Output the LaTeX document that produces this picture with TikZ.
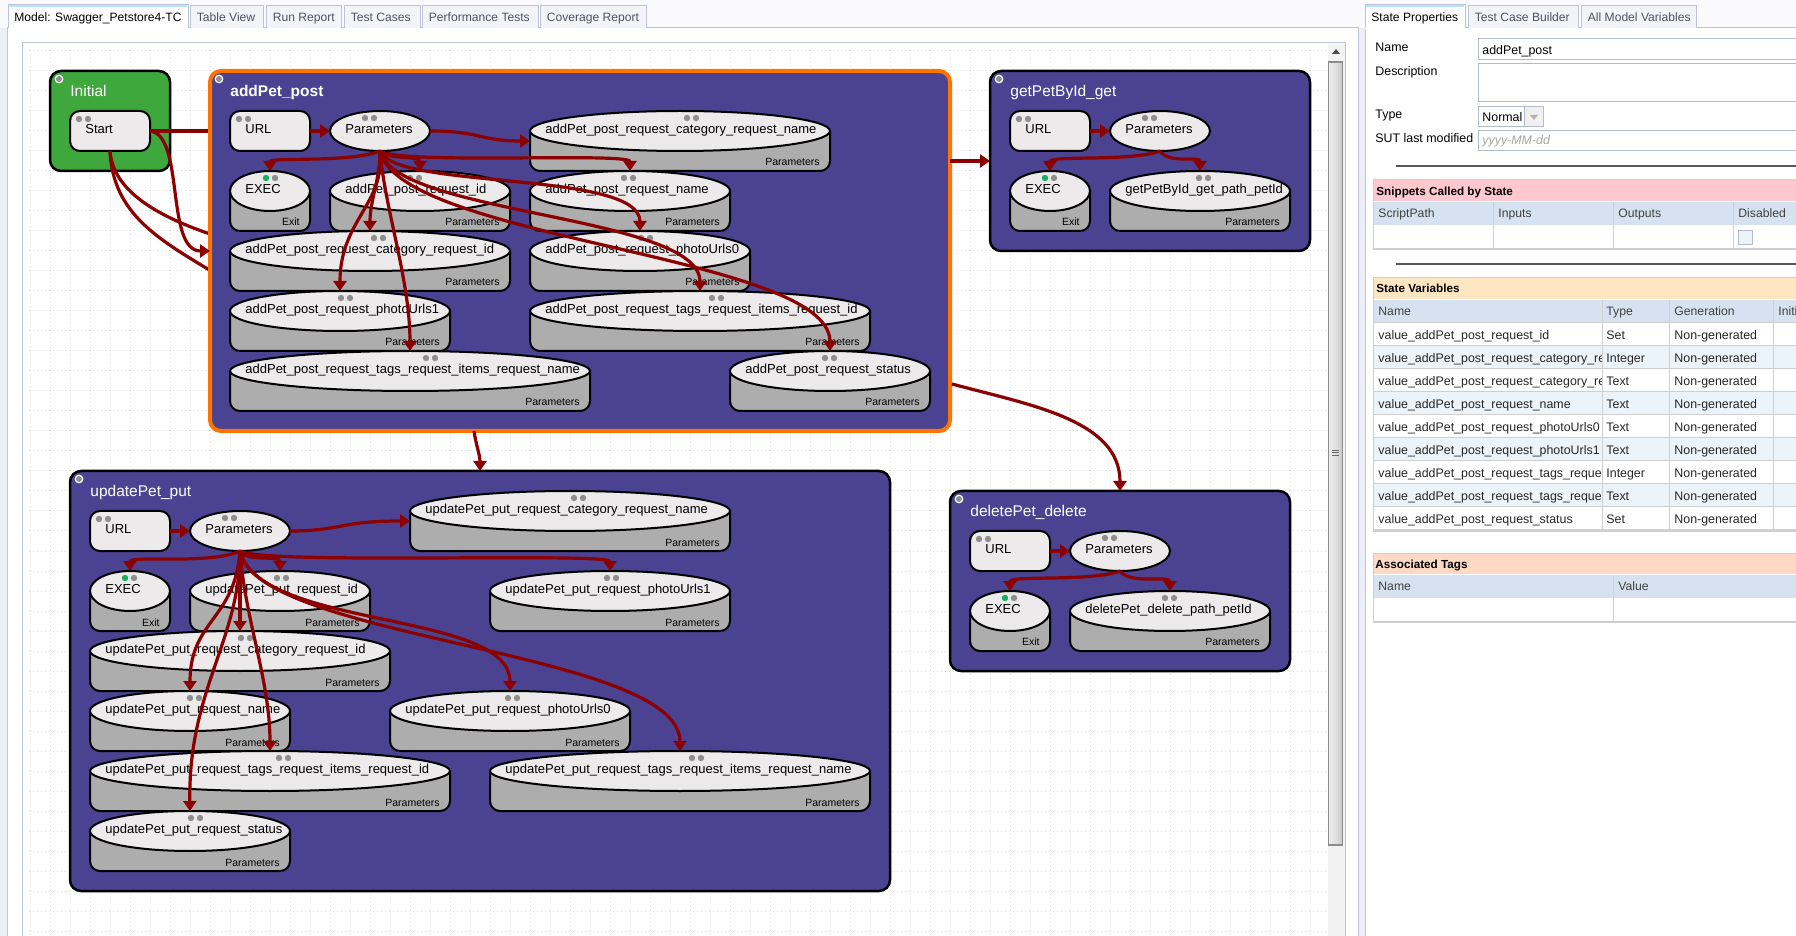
\documentclass[tikz,border=0pt]{standalone}
\usepackage{fontspec}
\setmainfont{Liberation Sans}
\usetikzlibrary{shapes.geometric,arrows.meta,calc}
\definecolor{stateblue}{HTML}{4B4391}
\definecolor{stategreen}{HTML}{3EA83C}
\definecolor{arrowred}{HTML}{8B0000}
\definecolor{nodefill}{HTML}{ECEAEB}
\definecolor{cylgrey}{HTML}{ADADAD}
\definecolor{dotgrey}{HTML}{8E8E8E}
\definecolor{dotgreen}{HTML}{10B060}
\definecolor{panelbg}{HTML}{EEEFF6}
\definecolor{topbg}{HTML}{FAFAFD}
\definecolor{tabline}{HTML}{BFC3D6}
\definecolor{tabfill}{HTML}{F3F4F8}
\definecolor{tabtext}{HTML}{4A5460}
\definecolor{fieldline}{HTML}{B4BBCB}
\definecolor{headblue}{HTML}{D6E2EF}
\definecolor{rowblue}{HTML}{EBF4FA}
\definecolor{tablegrey}{HTML}{CFCFCF}
\definecolor{pinkhead}{HTML}{FFC8CE}
\definecolor{orangehead}{HTML}{FFE6C2}
\definecolor{salmonhead}{HTML}{FFD9C4}
\newcommand\fsz[1]{\fontsize{#1}{#1}\selectfont}
\tikzset{
  x=0.5pt,y=-0.5pt,
  statebody/.style={draw=black,line width=1.25pt,fill=stateblue,rounded corners=5.5pt,inner sep=0pt,outer sep=0pt},
  selbody/.style={draw=orange!90!red,line width=2pt,fill=stateblue,rounded corners=5.5pt,inner sep=0pt,outer sep=0pt},
  initbody/.style={draw=black,line width=1.25pt,fill=stategreen,rounded corners=5.5pt,inner sep=0pt,outer sep=0pt},
  urlbody/.style={draw=black,line width=1pt,fill=nodefill,rounded corners=5pt,inner sep=0pt,outer sep=0pt},
  parbody/.style={ellipse,draw=black,line width=1pt,fill=nodefill,inner sep=0pt,outer sep=0pt},
  cylbox/.style={inner sep=0pt,outer sep=0pt},
  cylside/.style={draw=black,line width=1pt,fill=cylgrey,rounded corners=5pt},
  titletext/.style={anchor=base west,inner sep=0pt,text=white,font=\fsz{7.75}},
  nametext/.style={anchor=base west,inner sep=0pt,text=black,font=\fsz{6.5}},
  subtext/.style={anchor=base east,inner sep=0pt,text=black,font=\fsz{5.25}},
  conn/.style={draw=arrowred,line width=1.6pt,-{Triangle[length=5pt,width=6.5pt]}},
  connplain/.style={draw=arrowred,line width=1.6pt},
  griddots/.style={draw=black!13,line width=0.5pt,dash pattern=on 0.5pt off 1.5pt},
  tablabel/.style={anchor=base west,inner sep=0pt,font=\fsz{6.05}},
  formlabel/.style={anchor=base west,inner sep=0pt,text=black,font=\fsz{6.2}},
  boldlabel/.style={anchor=base west,inner sep=0pt,text=black,font=\fsz{5.85}\bfseries},
  headlabel/.style={anchor=base west,inner sep=0pt,text=black!75,font=\fsz{6.1}},
  celltext/.style={anchor=base west,inner sep=0pt,text=black!85,font=\fsz{6.2}},
  fieldbox/.style={draw=fieldline,line width=0.5pt,fill=white},
  tabshape/.style={draw=tabline,line width=0.5pt,fill=tabfill},
  gridrule/.style={draw=tablegrey,line width=0.5pt},
}
% name, x0,y0,x1,y1, style, title, title font extra
\newcommand\statebox[8]{%
  \pgfmathsetlengthmacro\bw{0.5pt*(#4-#2)}\pgfmathsetlengthmacro\bh{0.5pt*(#5-#3)}%
  \node[#6,minimum width=\bw,minimum height=\bh] (#1) at ({(#2+#4)/2},{(#3+#5)/2}) {};
  \fill[white] (#2+9,#3+8) circle (2.2pt);
  \fill[dotgrey] (#2+9,#3+8) circle (1.5pt);
  \node[titletext,#8] (#1-t) at (#2+20,#3+25.5) {#7};
}
\newcommand\urlbox[4]{%
  \node[urlbody,minimum width=40pt,minimum height=20pt] (#1) at (#2+40,#3+20) {};
  \fill[dotgrey] (#2+9,#3+8) circle (1.6pt) (#2+18,#3+8) circle (1.6pt);
  \node[nametext] (#1-t) at (#2+15,#3+22.5) {#4};
}
\newcommand\parell[3]{%
  \node[parbody,minimum width=50pt,minimum height=20pt] (#1) at (#2+50,#3+20) {};
  \fill[dotgrey] (#2+35,#3+7) circle (1.6pt) (#2+44,#3+7) circle (1.6pt);
  \node[nametext] (#1-t) at (#2+15,#3+22.5) {Parameters};
}
% name,x0,y0,x1,y1,dotx,text,sub,dotcolour
\newcommand\cylnode[9]{%
  \pgfmathsetlengthmacro\bw{0.5pt*(#4-#2)}\pgfmathsetlengthmacro\bh{0.5pt*(#5-#3)}%
  \node[cylbox,minimum width=\bw,minimum height=\bh] (#1) at ({(#2+#4)/2},{(#3+#5)/2}) {};
  \path[cylside] ([yshift=-10pt]#1.north west) -- (#1.south west) -- (#1.south east) -- ([yshift=-10pt]#1.north east);
  \node[parbody,minimum width=\bw,minimum height=20pt,anchor=north] (#1-e) at (#1.north) {};
  \fill[#9] (#6,#3+7) circle (1.6pt);
  \fill[dotgrey] (#6+9,#3+7) circle (1.6pt);
  \node[nametext] (#1-t) at (#2+15,#3+22.5) {#7};
  \node[subtext] (#1-s) at (#4-10,#5-5) {#8};
}
% name,x0,x1,text,colour,style
\newcommand\tabitem[6]{%
  \draw[#6] (#2,28) -- (#2,6) -- (#3,6) -- (#3,28);
  \node[tablabel,text=#5] (#1) at (#2+6.5,21.5) {#4};
}
\begin{document}
\begin{tikzpicture}
\useasboundingbox (0,0) rectangle (1796,936);
% ---- window background
\fill[panelbg] (0,0) rectangle (1796,936);
\fill[topbg] (0,0) rectangle (1796,28);
\fill[white] (7,28) rectangle (1358,936);
\fill[white] (1365,28) rectangle (1796,936);
\draw[tabline,line width=0.5pt] (7,936) -- (7,28) -- (1358,28) -- (1358,936);
\draw[tabline,line width=0.5pt] (1365,936) -- (1365,28) -- (1796,28);
% ---- left tabs
\tabitem{tabTable}{190}{263}{Table View}{tabtext}{tabshape}
\tabitem{tabRun}{266}{341}{Run Report}{tabtext}{tabshape}
\tabitem{tabCases}{344}{420}{Test Cases}{tabtext}{tabshape}
\tabitem{tabPerf}{422}{538}{Performance Tests}{tabtext}{tabshape}
\tabitem{tabCov}{540}{646}{Coverage Report}{tabtext}{tabshape}
\fill[white] (8,5) rectangle (188,29);
\draw[tabline,line width=0.5pt] (8,28) -- (8,5) -- (188,5) -- (188,28);
\draw[cyan!30,line width=0.7pt] (9,6) -- (187,6);
\node[tablabel,text=black] (tabModel) at (14,21.5) {Model: Swagger\_Petstore4-TC};
% ---- canvas
\draw[tabline,line width=0.5pt,fill=white] (22,43) rectangle (1345,936);
\begin{scope}
\clip (23,44) rectangle (1328,936);
\foreach \gx in {30,50,...,1330} \draw[griddots] (\gx,50) -- (\gx,936);
\foreach \gy in {51,71,...,936} \draw[griddots] (29,\gy) -- (1328,\gy);
\end{scope}
% ---- scrollbar
\fill[black!5] (1328,44) rectangle (1344.7,936);
\fill[black!70] (1332,54) -- (1340,54) -- (1336,49) -- cycle;
\draw[black!45,line width=0.6pt,left color=black!8,right color=black!22,middle color=black!12] (1328.5,62) rectangle (1342.5,845);
\foreach \sy in {450,452.5,455} \draw[black!60,line width=0.4pt] (1332,\sy) -- (1339,\sy);
% ---- Initial
\statebox{init}{50}{71}{170}{171}{initbody}{Initial}{}
\urlbox{start}{70}{111}{Start}
% ---- transitions that pass behind addPet_post
\coordinate (behindA) at (216,131);
\coordinate (behindB) at (216,236);
\coordinate (behindC) at (216,274);
\draw[connplain] (start.east) -- (behindA);
\draw[connplain] (start.south) .. controls (113,190) and (155,216) .. (behindB);
\draw[connplain] (start.south) .. controls (113,215) and (160,240) .. (behindC);
% ---- addPet_post
\statebox{add}{210}{71}{950}{431}{selbody}{addPet\_post}{font=\fsz{7.75}\bfseries}
\urlbox{aurl}{230}{111}{URL}
\parell{apar}{330}{111}
\cylnode{acn}{530}{111}{830}{171}{687}{addPet\_post\_request\_category\_request\_name}{Parameters}{dotgrey}
\cylnode{aex}{230}{171}{310}{231}{266}{EXEC}{Exit}{dotgreen}
\cylnode{aid}{330}{171}{510}{231}{410}{addPet\_post\_request\_id}{Parameters}{dotgrey}
\cylnode{anm}{530}{171}{730}{231}{624}{addPet\_post\_request\_name}{Parameters}{dotgrey}
\cylnode{aci}{230}{231}{510}{291}{374}{addPet\_post\_request\_category\_request\_id}{Parameters}{dotgrey}
\cylnode{apz}{530}{231}{750}{291}{641}{addPet\_post\_request\_photoUrls0}{Parameters}{dotgrey}
\cylnode{apo}{230}{291}{450}{351}{341}{addPet\_post\_request\_photoUrls1}{Parameters}{dotgrey}
\cylnode{ati}{530}{291}{870}{351}{712}{addPet\_post\_request\_tags\_request\_items\_request\_id}{Parameters}{dotgrey}
\cylnode{atn}{230}{351}{590}{411}{426}{addPet\_post\_request\_tags\_request\_items\_request\_name}{Parameters}{dotgrey}
\cylnode{ast}{730}{351}{930}{411}{825}{addPet\_post\_request\_status}{Parameters}{dotgrey}
\draw[conn] (aurl.east) -- (apar.west);
\draw[conn] (apar.east) .. controls (480,131) and (480,141) .. (acn.west);
\draw[conn] (apar.south) .. controls (350,163) and (270,157) .. (aex.north);
\draw[conn] (apar.south) .. controls (385,160) and (420,155) .. (aid.north);
\draw[conn] (apar.south) .. controls (400,165) and (630,152) .. (anm.north);
\draw[conn] (apar.south) .. controls (380,180) and (370,200) .. (aci.north);
\draw[conn] (apar.south) .. controls (395,190) and (640,170) .. (apz.north);
\draw[conn] (apar.south) .. controls (385,205) and (340,220) .. (apo.north);
\draw[conn] (apar.south) .. controls (385,210) and (410,280) .. (atn.north);
\draw[conn] (apar.south) .. controls (395,215) and (700,215) .. (ati.north);
\draw[conn] (apar.south) .. controls (400,240) and (830,255) .. (ast.north);
\draw[conn] (start.east) .. controls (185,135) and (165,251) .. (add.west);
% ---- getPetById_get
\statebox{get}{990}{71}{1310}{251}{statebody}{getPetById\_get}{}
\urlbox{gurl}{1010}{111}{URL}
\parell{gpar}{1110}{111}
\cylnode{gex}{1010}{171}{1090}{231}{1045}{EXEC}{Exit}{dotgreen}
\cylnode{gid}{1110}{171}{1290}{231}{1199}{getPetById\_get\_path\_petId}{Parameters}{dotgrey}
\draw[conn] (gurl.east) -- (gpar.west);
\draw[conn] (gpar.south) .. controls (1130,162) and (1050,155) .. (gex.north);
\draw[conn] (gpar.south) .. controls (1170,165) and (1200,155) .. (gid.north);
\draw[conn] (add.east |- get.west) -- (get.west);
% ---- updatePet_put
\statebox{upd}{70}{471}{890}{891}{statebody}{updatePet\_put}{}
\urlbox{uurl}{90}{511}{URL}
\parell{upar}{190}{511}
\cylnode{ucn}{410}{491}{730}{551}{574}{updatePet\_put\_request\_category\_request\_name}{Parameters}{dotgrey}
\cylnode{uex}{90}{571}{170}{631}{125}{EXEC}{Exit}{dotgreen}
\cylnode{uid}{190}{571}{370}{631}{277}{updatePet\_put\_request\_id}{Parameters}{dotgrey}
\cylnode{upo}{490}{571}{730}{631}{607}{updatePet\_put\_request\_photoUrls1}{Parameters}{dotgrey}
\cylnode{uci}{90}{631}{390}{691}{241}{updatePet\_put\_request\_category\_request\_id}{Parameters}{dotgrey}
\cylnode{unm}{90}{691}{290}{751}{190}{updatePet\_put\_request\_name}{Parameters}{dotgrey}
\cylnode{upz}{390}{691}{630}{751}{508}{updatePet\_put\_request\_photoUrls0}{Parameters}{dotgrey}
\cylnode{uti}{90}{751}{450}{811}{279}{updatePet\_put\_request\_tags\_request\_items\_request\_id}{Parameters}{dotgrey}
\cylnode{utn}{490}{751}{870}{811}{692}{updatePet\_put\_request\_tags\_request\_items\_request\_name}{Parameters}{dotgrey}
\cylnode{ust}{90}{811}{290}{871}{191}{updatePet\_put\_request\_status}{Parameters}{dotgrey}
\draw[conn] (uurl.east) -- (upar.west);
\draw[conn] (upar.east) .. controls (340,531) and (340,521) .. (ucn.west);
\draw[conn] (upar.south) .. controls (210,565) and (130,555) .. (uex.north);
\draw[conn] (upar.south) .. controls (245,562) and (280,555) .. (uid.north);
\draw[conn] (upar.south) .. controls (260,565) and (610,552) .. (upo.north);
\draw[conn] (upar.south) -- (uci.north);
\draw[conn] (upar.south) .. controls (235,620) and (190,620) .. (unm.north);
\draw[conn] (upar.south) .. controls (245,620) and (270,680) .. (uti.north);
\draw[conn] (upar.south) .. controls (240,640) and (188,690) .. (ust.north);
\draw[conn] (upar.south) .. controls (260,630) and (510,610) .. (upz.north);
\draw[conn] (upar.south) .. controls (255,640) and (680,650) .. (utn.north);
\coordinate (leaveU) at (474,431);
\draw[conn] (leaveU) .. controls (476,445) and (480,455) .. (upd.north);
% ---- deletePet_delete
\statebox{del}{950}{491}{1290}{671}{statebody}{deletePet\_delete}{}
\urlbox{durl}{970}{531}{URL}
\parell{dpar}{1070}{531}
\cylnode{dex}{970}{591}{1050}{651}{1005}{EXEC}{Exit}{dotgreen}
\cylnode{did}{1070}{591}{1270}{651}{1165}{deletePet\_delete\_path\_petId}{Parameters}{dotgrey}
\draw[conn] (durl.east) -- (dpar.west);
\draw[conn] (dpar.south) .. controls (1090,582) and (1010,575) .. (dex.north);
\draw[conn] (dpar.south) .. controls (1130,585) and (1170,575) .. (did.north);
\coordinate (leaveD) at (952,384);
\draw[conn] (leaveD) .. controls (1030,405) and (1120,420) .. (del.north);
% ---- right tabs
\tabitem{tabBuilder}{1468}{1578}{Test Case Builder}{tabtext}{tabshape}
\tabitem{tabAll}{1581}{1696}{All Model Variables}{tabtext}{tabshape}
\fill[white] (1365,5) rectangle (1465,29);
\draw[tabline,line width=0.5pt] (1365,28) -- (1365,5) -- (1465,5) -- (1465,28);
\draw[cyan!30,line width=0.7pt] (1366,6) -- (1464,6);
\node[tablabel,text=black] (tabState) at (1371,21.5) {State Properties};
% ---- form
\node[formlabel] (lblName) at (1375,52) {Name};
\draw[fieldbox] (1478,39) rectangle (1800,60);
\node[formlabel] (valName) at (1482,54.5) {addPet\_post};
\node[formlabel] (lblDesc) at (1375,76) {Description};
\draw[fieldbox] (1478,64) rectangle (1800,102);
\node[formlabel] (lblType) at (1375,119) {Type};
\draw[fieldbox] (1478,107) rectangle (1543,127);
\fill[black!6] (1524,107.5) rectangle (1542.5,126.5);
\draw[fieldline,line width=0.5pt] (1524,107) -- (1524,127);
\fill[black!30] (1530,115) -- (1538,115) -- (1534,120) -- cycle;
\node[formlabel] (valType) at (1482,121.5) {Normal};
\node[formlabel] (lblSut) at (1375,143) {SUT last modified};
\draw[fieldbox] (1478,131) rectangle (1800,151);
\node[formlabel,text=black!35,font=\fsz{6.2}\itshape] (valSut) at (1482,144.5) {yyyy-MM-dd};
\draw[black!65,line width=0.8pt] (1396,166) -- (1796,166);
% ---- snippets
\fill[pinkhead] (1373,180) rectangle (1796,201);
\draw[gridrule] (1373,249) -- (1373,180) -- (1796,180);
\node[boldlabel] (hSnip) at (1376,195.5) {Snippets Called by State};
\fill[headblue] (1374,202) rectangle (1796,225);
\foreach \cx in {1493,1613,1733} \draw[gridrule] (\cx,202) -- (\cx,249);
\node[headlabel] (cScript) at (1378,217.5) {ScriptPath};
\node[headlabel] (cInputs) at (1498,217.5) {Inputs};
\node[headlabel] (cOutputs) at (1618,217.5) {Outputs};
\node[headlabel] (cDisabled) at (1738,217.5) {Disabled};
\draw[gridrule,line width=0.9pt] (1373,249) -- (1796,249);
\draw[fieldline,line width=0.5pt,fill=rowblue] (1738,231) rectangle (1752,245);
\draw[black!65,line width=0.8pt] (1396,264) -- (1796,264);
% ---- state variables
\fill[orangehead] (1373,278) rectangle (1796,299);
\draw[gridrule] (1373,531) -- (1373,278) -- (1796,278);
\node[boldlabel] (hVars) at (1376,293) {State Variables};
\fill[headblue] (1374,300) rectangle (1796,323);
\foreach \ry in {346,392,438,484} \fill[rowblue] (1374,\ry) rectangle (1796,\ry+23);
\foreach \ry in {323,346,...,531} \draw[gridrule] (1373,\ry) -- (1796,\ry);
\foreach \cx in {1602,1669,1773} \draw[gridrule] (\cx,300) -- (\cx,531);
\draw[gridrule,line width=0.9pt] (1373,531) -- (1796,531);
\node[headlabel] (vName) at (1378,315.5) {Name};
\node[headlabel] (vType) at (1606,315.5) {Type};
\node[headlabel] (vGen) at (1674,315.5) {Generation};
\node[headlabel] (vInit) at (1778,315.5) {Initi};
\begin{scope}
\clip (1374,323) rectangle (1601.5,531);
\foreach \i/\nm in {0/value\_addPet\_post\_request\_id,1/value\_addPet\_post\_request\_category\_re,2/value\_addPet\_post\_request\_category\_re,3/value\_addPet\_post\_request\_name,4/value\_addPet\_post\_request\_photoUrls0,5/value\_addPet\_post\_request\_photoUrls1,6/value\_addPet\_post\_request\_tags\_reque,7/value\_addPet\_post\_request\_tags\_reque,8/value\_addPet\_post\_request\_status}
  \node[celltext] (vn\i) at (1378,339.5+23*\i) {\nm};
\end{scope}
\foreach \i/\ty in {0/Set,1/Integer,2/Text,3/Text,4/Text,5/Text,6/Integer,7/Text,8/Set}{
  \node[celltext] (vt\i) at (1606,339.5+23*\i) {\ty};
  \node[celltext] (vg\i) at (1674,339.5+23*\i) {Non-generated};
}
% ---- associated tags
\fill[salmonhead] (1373,553) rectangle (1796,574);
\draw[gridrule] (1373,622) -- (1373,553) -- (1796,553);
\node[boldlabel] (hTags) at (1375,568) {Associated Tags};
\fill[headblue] (1374,575) rectangle (1796,598);
\draw[gridrule] (1613,575) -- (1613,622);
\node[headlabel] (tName) at (1378,590) {Name};
\node[headlabel] (tValue) at (1618,590) {Value};
\draw[gridrule,line width=0.9pt] (1373,622) -- (1796,622);
\end{tikzpicture}
\end{document}
